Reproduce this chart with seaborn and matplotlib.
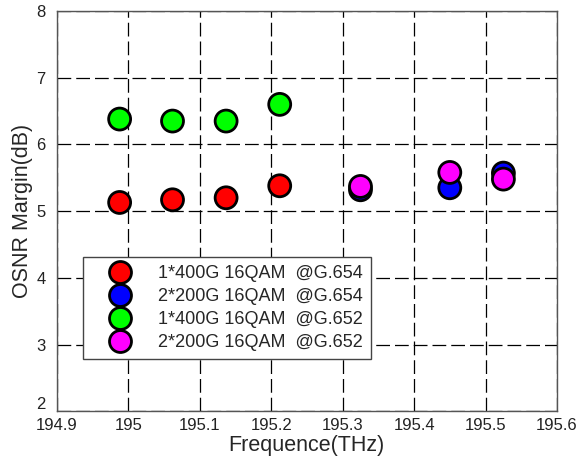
import numpy as np
import pandas as pd
import matplotlib
matplotlib.use('Agg')
import matplotlib.pyplot as plt
import matplotlib.transforms as mtransforms
import seaborn as sns

# OSNR margin per channel frequency
labels = ['1*400G 16QAM  @G.654', '2*200G 16QAM  @G.654',
          '1*400G 16QAM  @G.652', '2*200G 16QAM  @G.652']
freq_400_654 = [194.988, 195.062, 195.137, 195.212]
osnr_400_654 = [5.13, 5.17, 5.20, 5.38]
freq_200_654 = [195.325, 195.450, 195.525]
osnr_200_654 = [5.32, 5.35, 5.57]
freq_400_652 = [194.988, 195.062, 195.137, 195.212]
osnr_400_652 = [6.38, 6.35, 6.35, 6.60]
freq_200_652 = [195.325, 195.450, 195.525]
osnr_200_652 = [5.37, 5.58, 5.48]
colors = ['#ff0000', '#0000ff', '#00ff00', '#ff00ff']

frames = []
for lab, f, o in zip(labels,
                     [freq_400_654, freq_200_654, freq_400_652, freq_200_652],
                     [osnr_400_654, osnr_200_654, osnr_400_652, osnr_200_652]):
    frames.append(pd.DataFrame({'freq': f, 'osnr': o, 'series': lab}))
df = pd.concat(frames, ignore_index=True)

sns.set_style('white')
plt.rcParams['font.family'] = ['Liberation Sans', 'DejaVu Sans']

fig = plt.figure(figsize=(5.79, 4.57), dpi=100)
ax = fig.add_axes([0.098, 0.100, 0.864, 0.876])

sns.scatterplot(data=df, x='freq', y='osnr', hue='series', hue_order=labels,
                palette=colors, s=250, edgecolor='black', linewidth=2,
                ax=ax, zorder=3)

ax.set_xlim(194.9, 195.6)
ax.set_ylim(2, 8)
ax.set_xticks(np.arange(194.9, 195.61, 0.1))
ax.set_xticklabels(['194.9', '195', '195.1', '195.2', '195.3', '195.4', '195.5', '195.6'])
ax.set_yticks(range(2, 9))
ax.grid(True, color='black', linestyle=(0, (11, 4)), linewidth=0.9)
ax.tick_params(direction='in', length=4, labelsize=12, colors='#222222')
ax.tick_params(axis='x', pad=5)
ax.tick_params(axis='y', pad=8)
for sp in ax.spines.values():
    sp.set_color('#555555')
    sp.set_linewidth(1.0)

# lift the bottom y label so it sits above "194.9" like the original
fig.canvas.draw()
lift = mtransforms.ScaledTranslation(0, 6 / 72, fig.dpi_scale_trans)
first = ax.get_yticklabels()[0]
first.set_transform(first.get_transform() + lift)

ax.set_xlabel('Frequence(THz)', fontsize=15.5, labelpad=1)
ax.set_ylabel('OSNR Margin(dB)', fontsize=15.5, labelpad=2)

leg = ax.legend(loc='upper left', bbox_to_anchor=(0.052, 0.385), fontsize=13,
                frameon=True, fancybox=False, edgecolor='#444444',
                borderpad=0.45, borderaxespad=0, labelspacing=0.33,
                handlelength=3.2, handletextpad=0.5, framealpha=1)
leg.get_frame().set_linewidth(1.0)

plt.savefig('out.png', dpi=100)
